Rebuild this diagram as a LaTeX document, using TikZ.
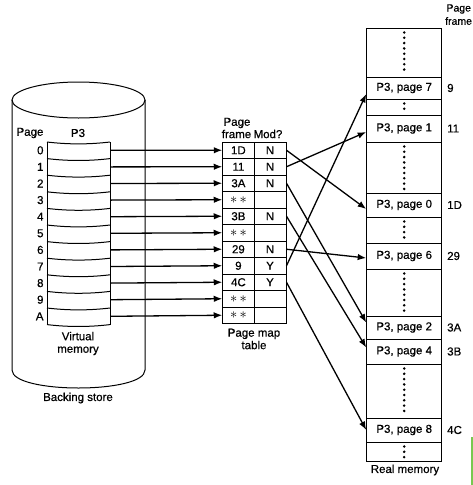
\documentclass[tikz,border=0pt]{standalone}
\usepackage{fontspec}
\setmainfont{Liberation Sans}[FakeBold=0.6]
\usetikzlibrary{arrows.meta}
\definecolor{edgegreen}{RGB}{120,200,80}
\newcommand{\stars}{{\fontsize{14}{14}\selectfont$\ast\,\ast$}}
\begin{document}
\begin{tikzpicture}[x=1pt,y=-1pt,
  font=\fontsize{11.5}{12.5}\selectfont,
  line width=1pt,
  arr/.style={-{Latex[length=8.5pt,width=6.5pt]}, line width=1.3pt},
  cell/.style={draw, minimum height=16.5pt, inner sep=0pt, anchor=center},
  fcell/.style={cell, minimum width=31.3pt},
  mcell/.style={cell, minimum width=32pt},
  mem/.style={draw, minimum width=75pt, inner sep=0pt},
  vrow/.style={minimum width=63pt, minimum height=16.6pt, inner sep=0pt},
  lbl/.style={inner sep=0pt},
  dots/.style={line width=2.8pt, line cap=round, dash pattern=on 0pt off 5.3pt}]
\useasboundingbox (0,0) rectangle (473,485);

% backing store cylinder
\draw (78.5,100) ellipse [x radius=66.5, y radius=18];
\draw (12,100) -- (12,370) .. controls (12,394) and (145,394) .. (145,370) -- (145,100);

% virtual memory strip
\draw (47,142) -- (47,324.6);
\draw (110,142) -- (110,324.6);
\foreach \k in {0,...,11}
  \draw (47,{142+16.6*\k}) .. controls (68,{144.5+16.6*\k}) and (89,{144.5+16.6*\k}) .. (110,{142+16.6*\k});
\node[lbl] (hpage) at (30,133) {Page};
\node[lbl] (hp3) at (78,133) {P3};
\foreach \i/\l in {0/0,1/1,2/2,3/3,4/4,5/5,6/6,7/7,8/8,9/9,10/A} {
  \node[vrow] (v\i) at (78.5,{150.3+16.6*\i}) {};
  \node[lbl, anchor=east] (vl\i) at (44,{150.3+16.6*\i}) {\l};
}
\node[lbl, align=center] (vmem) at (78,343.5) {Virtual\\memory};
\node[lbl] (bstore) at (78,398) {Backing store};

% page map table
\foreach \i/\f/\m in {0/1D/N,1/11/N,2/3A/N,3/\stars/,4/3B/N,5/\stars/,6/29/N,7/9/Y,8/4C/Y,9/\stars/,10/\stars/} {
  \node[fcell] (f\i) at (238.4,{150.25+16.5*\i}) {\f};
  \node[mcell] (m\i) at (270,{150.25+16.5*\i}) {\m};
}
\node[lbl] (tpage) at (237,123) {Page};
\node[lbl] (tframe) at (236.5,134) {frame};
\node[lbl] (tmod) at (268,134) {Mod?};
\node[lbl, align=center] (tname) at (254,339) {Page map\\table};

% arrows virtual -> table
\foreach \i in {0,...,10}
  \draw[arr] (v\i.east) -- (f\i.west);

% real memory
\foreach \n/\t/\b/\txt in {d1/28/77/,p7/77/99/{P3, page 7},d2/99/115/,p1/115/142/{P3, page 1},
  d3/142/193/,p0/193/217/{P3, page 0},d4/217/243/,p6/243/269/{P3, page 6},d5/269/316/,
  p2/316/339/{P3, page 2},p4/339/364/{P3, page 4},d6/364/418/,p8/418/442/{P3, page 8},d7/442/461/}
  \node[mem, minimum height={\b-\t}] (\n) at (404.2,{(\t+\b)/2}) {\txt};
\foreach \n in {d1,d2,d3,d4,d5,d6,d7}
  \draw[dots] ([yshift=-5pt]\n.north) -- ([yshift=4pt]\n.south);
\foreach \n/\l in {p7/9,p1/11,p0/1D,p6/29,p2/3A,p4/3B,p8/4C}
  \node[lbl, anchor=west] (fl\n) at ([xshift=4.5pt]\n.east) {\l};
\node[lbl] (rmem) at (405,470) {Real memory};
\node[lbl, anchor=east, font=\fontsize{10.5}{11}\selectfont] (rpage) at (471.5,9) {Page};
\node[lbl, anchor=east, font=\fontsize{10.5}{11}\selectfont] (rframe) at (472.5,21) {frame};

% arrows table -> real memory
\draw[arr] (m0.east) -- ([yshift=-4pt]p0.west);
\draw[arr] (m1.east) -- ([yshift=-3.5pt]p1.west);
\draw[arr] (m2.east) -- ([yshift=5pt]p2.west);
\draw[arr] (m4.east) -- ([yshift=4pt]p4.west);
\draw[arr] (m6.east) -- ([yshift=-2pt]p6.west);
\draw[arr] (m7.east) -- ([yshift=-6pt]p7.west);
\draw[arr] (m8.east) -- (p8.west);

% green edge mark
\draw[edgegreen, line width=1.8pt] (472,437) -- (472,485);
\end{tikzpicture}
\end{document}
